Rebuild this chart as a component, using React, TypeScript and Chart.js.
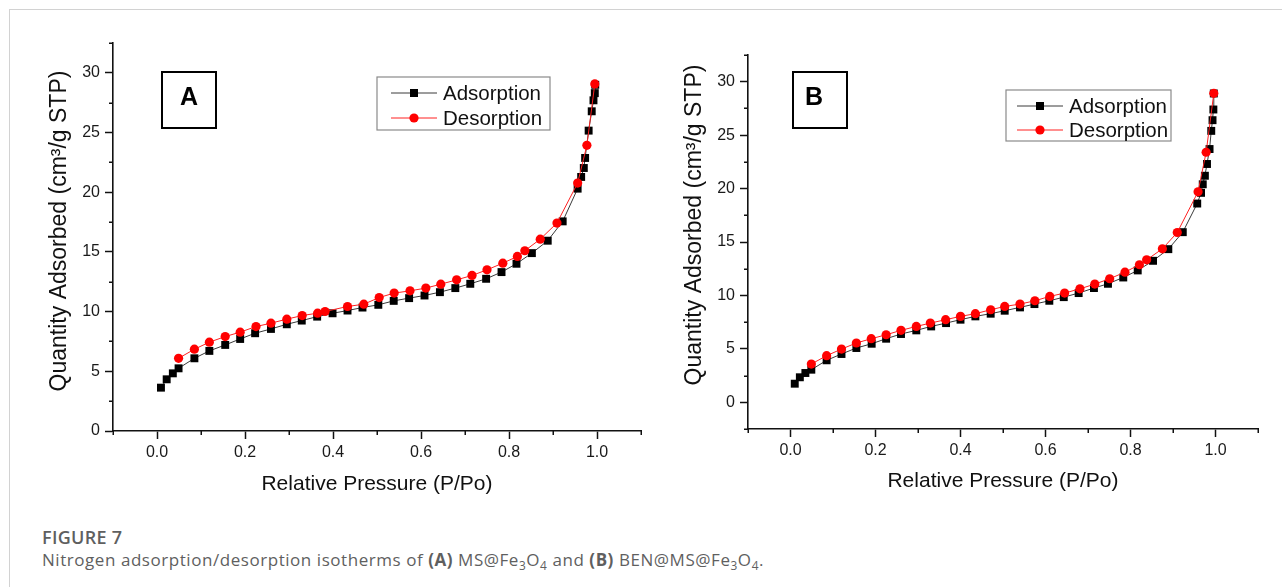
import React, { useEffect, useRef } from 'react';
import { Chart, registerables } from 'chart.js';

Chart.register(...registerables);

// ---------- data ----------
const seriesNames = ['Adsorption', 'Desorption'];
const panelLetters = ['A', 'B'];
const xTickLabels = ['0.0', '0.2', '0.4', '0.6', '0.8', '1.0'];
const yTickLabels = ['0', '5', '10', '15', '20', '25', '30'];
const xAxisTitle = 'Relative Pressure (P/Po)';
const yAxisTitle = 'Quantity Adsorbed (cm³/g STP)';

// Panel A: MS@Fe3O4
const adsA_P = [0.009, 0.022, 0.036, 0.049, 0.085, 0.119, 0.155, 0.189, 0.223, 0.259, 0.295, 0.329, 0.364, 0.399, 0.433, 0.467, 0.503, 0.538, 0.573, 0.608, 0.643, 0.678, 0.712, 0.748, 0.783, 0.817, 0.852, 0.888, 0.922, 0.956, 0.964, 0.970, 0.973, 0.981, 0.988, 0.992, 0.995, 0.996];
const adsA_Q = [3.63, 4.33, 4.83, 5.25, 6.09, 6.71, 7.21, 7.71, 8.19, 8.55, 8.94, 9.25, 9.58, 9.86, 10.09, 10.34, 10.57, 10.90, 11.13, 11.35, 11.63, 11.97, 12.33, 12.75, 13.31, 14.01, 14.90, 15.94, 17.56, 20.30, 21.28, 22.03, 22.87, 25.16, 26.78, 27.70, 28.30, 29.0];
const desA_P = [0.995, 0.977, 0.956, 0.909, 0.871, 0.836, 0.819, 0.786, 0.750, 0.716, 0.681, 0.645, 0.611, 0.575, 0.539, 0.505, 0.470, 0.433, 0.382, 0.365, 0.330, 0.295, 0.259, 0.225, 0.189, 0.155, 0.119, 0.085, 0.049];
const desA_Q = [29.07, 23.93, 20.77, 17.42, 16.07, 15.10, 14.62, 14.06, 13.50, 13.03, 12.66, 12.30, 11.97, 11.74, 11.55, 11.18, 10.62, 10.43, 10.01, 9.87, 9.67, 9.37, 9.03, 8.75, 8.28, 7.91, 7.44, 6.85, 6.09];

// Panel B: BEN@MS@Fe3O4
const adsB_P = [0.010, 0.022, 0.035, 0.049, 0.085, 0.120, 0.155, 0.191, 0.225, 0.260, 0.296, 0.331, 0.366, 0.400, 0.435, 0.471, 0.504, 0.540, 0.574, 0.609, 0.643, 0.678, 0.714, 0.747, 0.783, 0.817, 0.853, 0.889, 0.923, 0.957, 0.966, 0.970, 0.975, 0.980, 0.986, 0.990, 0.993, 0.995, 0.996];
const adsB_Q = [1.74, 2.34, 2.74, 3.05, 3.93, 4.52, 5.08, 5.48, 5.95, 6.39, 6.73, 7.10, 7.41, 7.73, 8.04, 8.29, 8.57, 8.88, 9.19, 9.50, 9.84, 10.22, 10.69, 11.09, 11.68, 12.34, 13.24, 14.33, 15.92, 18.60, 19.60, 20.40, 21.20, 22.30, 23.70, 25.40, 26.40, 27.40, 28.9];
const desB_P = [0.996, 0.978, 0.959, 0.910, 0.875, 0.838, 0.821, 0.787, 0.751, 0.716, 0.681, 0.645, 0.610, 0.575, 0.540, 0.504, 0.471, 0.435, 0.400, 0.365, 0.329, 0.296, 0.260, 0.225, 0.190, 0.155, 0.120, 0.085, 0.049];
const desB_Q = [28.91, 23.40, 19.70, 15.89, 14.36, 13.33, 12.87, 12.18, 11.56, 11.06, 10.62, 10.22, 9.91, 9.50, 9.19, 8.97, 8.66, 8.29, 8.04, 7.73, 7.41, 7.10, 6.73, 6.32, 5.95, 5.55, 4.98, 4.36, 3.58];

const xRange = [-0.1, 1.1];
const yRangeA = [0, 32.5];
const yRangeB = [-2.5, 32.5];

// ---------- helpers ----------
const FONT = "'Liberation Sans', Arial, Helvetica, sans-serif";
const isMult = (v: number, step: number) => Math.abs(v / step - Math.round(v / step)) < 1e-6;
const xLabel = (v: number) => {
  if (!isMult(v, 0.2)) return '';
  const s = (Math.round(v * 10) / 10).toFixed(1);
  return xTickLabels.includes(s) ? s : '';
};
const yLabel = (v: number) => {
  if (!isMult(v, 5)) return '';
  const s = String(Math.round(v));
  return yTickLabels.includes(s) ? s : '';
};

const minorTicksPlugin = {
  id: 'minorTicks',
  afterDraw(chart: any) {
    const { ctx } = chart;
    const xs = chart.scales.x;
    const ys = chart.scales.y;
    ctx.save();
    ctx.strokeStyle = '#111';
    ctx.lineWidth = 1.5;
    ctx.beginPath();
    xs.ticks.forEach((t: any) => {
      if (xLabel(t.value) === '') {
        const px = Math.round(xs.getPixelForValue(t.value)) + 0.25;
        ctx.moveTo(px, xs.top);
        ctx.lineTo(px, xs.top + 4);
      }
    });
    ys.ticks.forEach((t: any) => {
      if (yLabel(t.value) === '') {
        const py = Math.round(ys.getPixelForValue(t.value)) + 0.25;
        ctx.moveTo(ys.right - 4, py);
        ctx.lineTo(ys.right, py);
      }
    });
    ctx.stroke();
    ctx.restore();
  },
};

const annotPlugin = {
  id: 'annot',
  afterDraw(chart: any, _args: any, opts: any) {
    const { ctx } = chart;
    ctx.save();
    // y axis title (rotated)
    ctx.fillStyle = '#111';
    ctx.font = `23px ${FONT}`;
    ctx.textAlign = 'center';
    ctx.textBaseline = 'middle';
    ctx.save();
    ctx.translate(opts.yTitle.cx, opts.yTitle.cy);
    ctx.rotate(-Math.PI / 2);
    ctx.fillText(yAxisTitle, 0, 0);
    ctx.restore();
    // letter box
    const lb = opts.letterBox;
    ctx.strokeStyle = '#000';
    ctx.lineWidth = 2;
    ctx.strokeRect(lb.x, lb.y, lb.w, lb.h);
    ctx.fillStyle = '#000';
    ctx.font = `bold 25px ${FONT}`;
    ctx.textAlign = 'center';
    ctx.textBaseline = 'middle';
    ctx.fillText(opts.letter, lb.tx, lb.ty);
    // legend box
    const g = opts.legend;
    ctx.fillStyle = '#fff';
    ctx.fillRect(g.x, g.y, g.w, g.h);
    ctx.strokeStyle = '#8a8a8a';
    ctx.lineWidth = 1.2;
    ctx.strokeRect(g.x, g.y, g.w, g.h);
    chart.data.datasets.forEach((ds: any, i: number) => {
      const y = g.rows[i];
      ctx.strokeStyle = ds.borderColor;
      ctx.lineWidth = 1;
      ctx.beginPath();
      ctx.moveTo(g.lineX0, y);
      ctx.lineTo(g.lineX1, y);
      ctx.stroke();
      ctx.fillStyle = ds.pointBackgroundColor;
      const mx = (g.lineX0 + g.lineX1) / 2;
      if (ds.pointStyle === 'rect') {
        ctx.fillRect(mx - 4, y - 4, 8, 8);
      } else {
        ctx.beginPath();
        ctx.arc(mx, y, 4.6, 0, Math.PI * 2);
        ctx.fill();
      }
      ctx.fillStyle = '#111';
      ctx.font = `20.5px ${FONT}`;
      ctx.textAlign = 'left';
      ctx.textBaseline = 'middle';
      ctx.fillText(ds.label, g.textX, y + 1);
    });
    ctx.restore();
  },
};

type Panel = {
  ads: { x: number; y: number }[];
  des: { x: number; y: number }[];
  yRange: number[];
  width: number;
  height: number;
  pad: { top: number; right: number };
  yWidth: number;
  xHeight: number;
  xTitlePad: number;
  yTitle: { cx: number; cy: number };
  letter: string;
  letterBox: any;
  legend: any;
};

const toPts = (p: number[], q: number[]) => p.map((x, i) => ({ x, y: q[i] }));

const panelA: Panel = {
  ads: toPts(adsA_P, adsA_Q),
  des: toPts(desA_P, desA_Q),
  yRange: yRangeA,
  width: 660,
  height: 500,
  pad: { top: 43, right: 19 },
  yWidth: 113,
  xHeight: 69,
  xTitlePad: 3,
  yTitle: { cx: 60, cy: 231 },
  letter: panelLetters[0],
  letterBox: { x: 162, y: 72, w: 54, h: 56, tx: 189, ty: 98 },
  legend: { x: 377, y: 77, w: 173, h: 53, rows: [93, 118], lineX0: 391, lineX1: 437, textX: 443 },
};

const panelB: Panel = {
  ads: toPts(adsB_P, adsB_Q),
  des: toPts(desB_P, desB_Q),
  yRange: yRangeB,
  width: 622,
  height: 500,
  pad: { top: 55, right: 24 },
  yWidth: 88,
  xHeight: 71,
  xTitlePad: 6,
  yTitle: { cx: 35, cy: 225 },
  letter: panelLetters[1],
  letterBox: { x: 133, y: 72, w: 54, h: 56, tx: 154, ty: 98 },
  legend: { x: 346, y: 90, w: 165, h: 51, rows: [106, 130], lineX0: 357, lineX1: 403, textX: 409 },
};

function IsothermChart({ panel, left }: { panel: Panel; left: number }) {
  const ref = useRef<HTMLCanvasElement | null>(null);
  useEffect(() => {
    if (!ref.current) return;
    const chart = new Chart(ref.current, {
      type: 'scatter',
      data: {
        datasets: [
          {
            label: seriesNames[0],
            data: panel.ads,
            showLine: true,
            borderColor: '#3a3a3a',
            borderWidth: 1,
            pointStyle: 'rect',
            pointRadius: 5.6,
            pointHoverRadius: 5.6,
            pointBackgroundColor: '#000',
            pointBorderColor: '#000',
            pointBorderWidth: 0,
            order: 1,
          },
          {
            label: seriesNames[1],
            data: panel.des,
            showLine: true,
            borderColor: '#ff2020',
            borderWidth: 1,
            pointStyle: 'circle',
            pointRadius: 4.6,
            pointHoverRadius: 4.6,
            pointBackgroundColor: '#ff0000',
            pointBorderColor: '#ff0000',
            pointBorderWidth: 0,
            order: 0,
          },
        ] as any,
      },
      options: {
        animation: false,
        responsive: false,
        devicePixelRatio: 1,
        layout: { padding: { top: panel.pad.top, right: panel.pad.right, left: 0, bottom: 0 } },
        plugins: {
          legend: { display: false },
          tooltip: { enabled: false },
          annot: { letter: panel.letter, letterBox: panel.letterBox, legend: panel.legend, yTitle: panel.yTitle },
        } as any,
        scales: {
          x: {
            type: 'linear',
            min: xRange[0],
            max: xRange[1],
            afterFit: (s: any) => { s.height = panel.xHeight; },
            ticks: {
              stepSize: 0.1,
              autoSkip: false,
              maxRotation: 0,
              padding: 4,
              color: '#1a1a1a',
              font: { family: FONT, size: 16 },
              callback: (v: any) => xLabel(Number(v)),
            },
            grid: {
              drawOnChartArea: false,
              drawTicks: true,
              tickLength: 8,
              tickWidth: 1.5,
              tickColor: (c: any) => (c.tick && xLabel(c.tick.value) !== '' ? '#111' : 'rgba(0,0,0,0)'),
            },
            border: { display: true, color: '#111', width: 1.6 },
            title: {
              display: true,
              text: xAxisTitle,
              color: '#111',
              font: { family: FONT, size: 21 },
              padding: { top: 0, bottom: panel.xTitlePad },
            },
          },
          y: {
            type: 'linear',
            min: panel.yRange[0],
            max: panel.yRange[1],
            afterFit: (s: any) => { s.width = panel.yWidth; },
            ticks: {
              stepSize: 2.5,
              autoSkip: false,
              padding: 5,
              color: '#1a1a1a',
              font: { family: FONT, size: 16 },
              callback: (v: any) => yLabel(Number(v)),
            },
            grid: {
              drawOnChartArea: false,
              drawTicks: true,
              tickLength: 8,
              tickWidth: 1.5,
              tickColor: (c: any) => (c.tick && yLabel(c.tick.value) !== '' ? '#111' : 'rgba(0,0,0,0)'),
            },
            border: { display: true, color: '#111', width: 1.6 },
            title: { display: false },
          },
        },
      } as any,
      plugins: [minorTicksPlugin, annotPlugin],
    });
    return () => chart.destroy();
  }, [panel]);
  return (
    <canvas
      ref={ref}
      width={panel.width}
      height={panel.height}
      style={{ position: 'absolute', left, top: 0, width: panel.width, height: panel.height }}
    />
  );
}

export default function App() {
  const capColor = '#5f5f5f';
  const sub = { fontSize: '0.7em' };
  return (
    <div style={{ position: 'absolute', left: 0, top: 0, width: 1282, height: 587, background: '#fff', overflow: 'hidden' }}>
      <div
        style={{
          position: 'absolute',
          left: 9,
          top: 9,
          width: 1273,
          height: 578,
          borderTop: '1px solid #d2d2d2',
          borderLeft: '1px solid #d2d2d2',
        }}
      />
      <IsothermChart panel={panelA} left={0} />
      <IsothermChart panel={panelB} left={660} />
      <div
        style={{
          position: 'absolute',
          left: 42,
          top: 525,
          fontFamily: "'Open Sans', 'Noto Sans', sans-serif",
          fontWeight: 600,
          fontSize: 18,
          letterSpacing: 0.3,
          color: capColor,
          whiteSpace: 'nowrap',
        }}
      >
        FIGURE 7
      </div>
      <div
        style={{
          position: 'absolute',
          left: 42,
          top: 548,
          fontFamily: "'Open Sans', 'Noto Sans', sans-serif",
          fontWeight: 400,
          fontSize: 17,
          letterSpacing: 0.55,
          color: capColor,
          whiteSpace: 'nowrap',
        }}
      >
        Nitrogen adsorption/desorption isotherms of <b>(A)</b> MS@Fe<sub style={sub}>3</sub>O<sub style={sub}>4</sub> and{' '}
        <b>(B)</b> BEN@MS@Fe<sub style={sub}>3</sub>O<sub style={sub}>4</sub>.
      </div>
    </div>
  );
}
